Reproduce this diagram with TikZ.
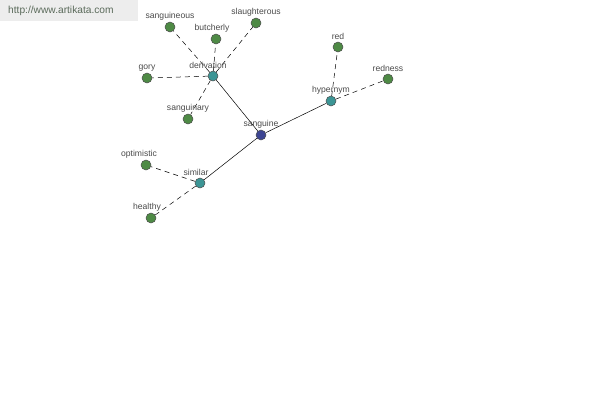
\documentclass[tikz,border=0pt]{standalone}
\usepackage{fontspec}
\setmainfont{Liberation Sans}
\usepackage{xcolor}
\usetikzlibrary{backgrounds}

\definecolor{leafgreen}{HTML}{4E8A45}
\definecolor{hubteal}{HTML}{3C9595}
\definecolor{rootblue}{HTML}{3D4592}
\definecolor{labgray}{HTML}{4A4A4A}
\definecolor{sitegray}{HTML}{5A6A5A}

\begin{document}
\begin{tikzpicture}[
    x=1pt, y=-1pt,
    dot/.style={circle, draw=black!70, line width=0.5pt, inner sep=0pt, minimum size=10pt},
    leaf/.style={dot, fill=leafgreen},
    hub/.style={dot, fill=hubteal},
    root/.style={dot, fill=rootblue},
    lab/.style={font=\fontsize{8.6}{9}\selectfont, text=labgray, inner sep=0.6pt, label distance=1pt},
    rel/.style={line width=0.5pt},
    weak/.style={line width=0.5pt, dash pattern=on 5pt off 4pt}
]
    \useasboundingbox (0,0) rectangle (600,400);

    % Watermark
    \fill[black!7] (0,0) rectangle (138,21);
    \node[anchor=west, inner sep=0pt, font=\fontsize{10.2}{11}\selectfont, text=sitegray] (site) at (8,11) {http://www.artikata.com};

    % Root and relation hubs
    \node[root, label={[lab]above:sanguine}] (sanguine) at (261,135) {};
    \node[hub, label={[lab, xshift=-5pt]above:derivation}] (derivation) at (213,76) {};
    \node[hub, label={[lab]above:hypernym}] (hypernym) at (331,101) {};
    \node[hub, label={[lab, xshift=-4pt]above:similar}] (similar) at (200,183) {};

    % Leaves
    \node[leaf, label={[lab]above:sanguineous}] (sanguineous) at (170,27) {};
    \node[leaf, label={[lab, xshift=-4pt]above:butcherly}] (butcherly) at (216,39) {};
    \node[leaf, label={[lab]above:slaughterous}] (slaughterous) at (256,23) {};
    \node[leaf, label={[lab]above:gory}] (gory) at (147,78) {};
    \node[leaf, label={[lab]above:sanguinary}] (sanguinary) at (188,119) {};
    \node[leaf, label={[lab]above:red}] (red) at (338,47) {};
    \node[leaf, label={[lab]above:redness}] (redness) at (388,79) {};
    \node[leaf, label={[lab, xshift=-7pt]above:optimistic}] (optimistic) at (146,165) {};
    \node[leaf, label={[lab, xshift=-4pt]above:healthy}] (healthy) at (151,218) {};

    % Connections
    \begin{pgfonlayer}{background}
    \draw[rel] (sanguine) -- (derivation);
    \draw[rel] (sanguine) -- (hypernym);
    \draw[rel] (sanguine) -- (similar);
    \draw[weak] (derivation) -- (sanguineous);
    \draw[weak] (derivation) -- (butcherly);
    \draw[weak] (derivation) -- (slaughterous);
    \draw[weak] (derivation) -- (gory);
    \draw[weak] (derivation) -- (sanguinary);
    \draw[weak] (hypernym) -- (red);
    \draw[weak] (hypernym) -- (redness);
    \draw[weak] (similar) -- (optimistic);
    \draw[weak] (similar) -- (healthy);
    \end{pgfonlayer}
\end{tikzpicture}
\end{document}
